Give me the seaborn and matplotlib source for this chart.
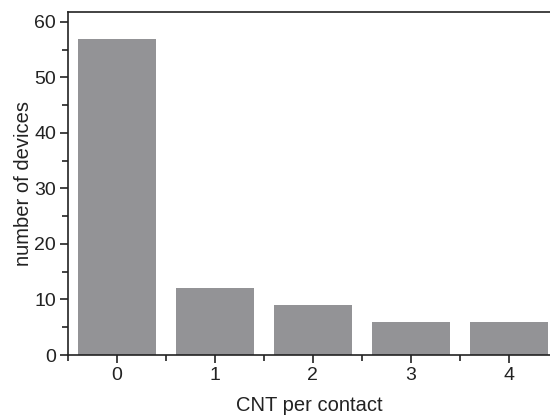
import matplotlib
matplotlib.use("Agg")
import matplotlib.pyplot as plt
import seaborn as sns
import pandas as pd
from matplotlib.ticker import MultipleLocator

categories = ["0", "1", "2", "3", "4"]
devices = [57, 12, 9, 6, 6]

sns.set_theme(style="ticks")
plt.rcParams['font.family'] = ['Liberation Sans', 'DejaVu Sans']

df = pd.DataFrame({"cnt": categories, "n": devices})

fig = plt.figure(figsize=(5.5, 4.15), dpi=100)
ax = fig.add_axes([68/550, 1-355/415, 1-68/550, (355-12)/415])
sns.barplot(data=df, x="cnt", y="n", color="#939396", saturation=1, width=0.8, ax=ax)
for p in ax.patches:
    p.set_edgecolor("none")

ax.set_xlim(-0.5, 4.42)
ax.set_ylim(0, 61.8)
ax.yaxis.set_major_locator(MultipleLocator(10))
ax.yaxis.set_minor_locator(MultipleLocator(5))
ax.xaxis.set_minor_locator(MultipleLocator(1, offset=0.5))
ax.tick_params(axis="both", which="major", direction="out", length=6, width=1.2, labelsize=14, color="#222222", labelcolor="#222222", pad=2.5)
ax.tick_params(axis="both", which="minor", direction="out", length=4, width=1.2, color="#222222")
ax.set_xlabel("CNT per contact", fontsize=14.5, color="#222222", labelpad=9)
ax.set_ylabel("number of devices", fontsize=14.5, color="#222222", labelpad=1)
for s in ["left", "bottom", "top"]:
    ax.spines[s].set_visible(True)
    ax.spines[s].set_linewidth(1.2)
    ax.spines[s].set_color("#222222")
ax.spines["right"].set_visible(False)

fig.savefig("out.png", dpi=100)
